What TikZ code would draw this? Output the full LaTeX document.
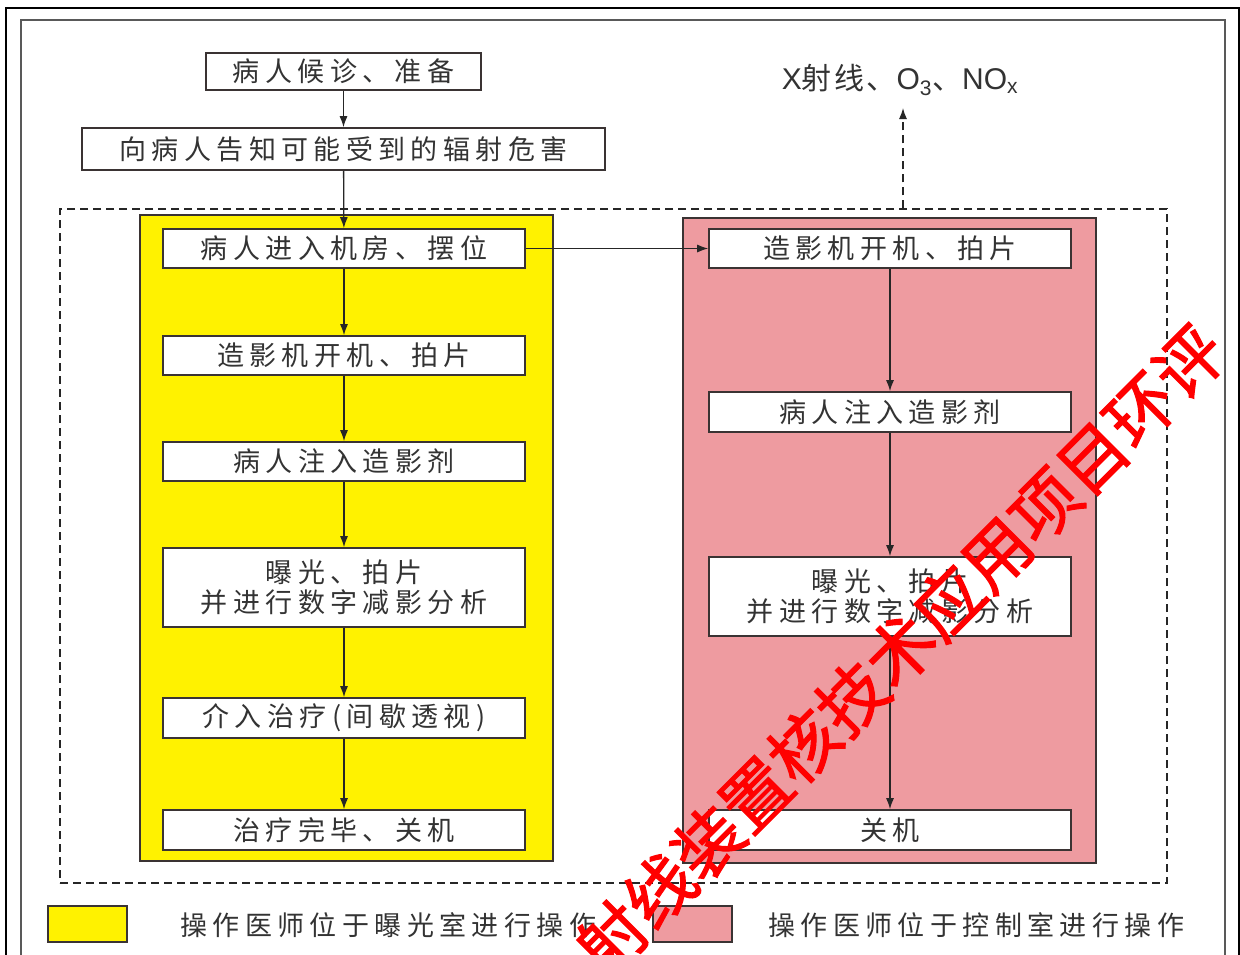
\documentclass[tikz,border=0pt]{standalone}
\usepackage{fontspec}
\setmainfont{Liberation Sans}
\newfontfamily\cjk[LetterSpace=20]{Noto Sans CJK SC}
\newfontfamily\cjkw{Noto Sans CJK SC}
\newfontfamily\cjkn[LetterSpace=8]{Noto Sans CJK SC}
\newfontfamily\wmfont[FakeBold=1.6]{Noto Sans CJK SC}
\usetikzlibrary{arrows.meta}
\definecolor{linec}{HTML}{3A3333}
\definecolor{txt}{HTML}{333333}
\definecolor{yel}{HTML}{FFF200}
\definecolor{pnk}{HTML}{EE9BA0}
\definecolor{wmred}{HTML}{FF0000}
\tikzset{
  stepbox/.style={draw=linec, line width=1.6pt, fill=white, inner sep=0pt,
    text=txt, align=center, font=\cjk\fontsize{27}{30}\selectfont},
  zonebox/.style={draw=linec, line width=1.5pt, inner sep=0pt},
  flow/.style={draw=black!85, line width=1.3pt, -{Latex[length=11pt,width=8pt]}},
  legtext/.style={text=txt, anchor=west, inner sep=0pt, font=\cjk\fontsize{27}{30}\selectfont},
}
\begin{document}
\begin{tikzpicture}[x=1pt,y=-1pt]
\useasboundingbox (0,0) rectangle (1240,954);
\clip (0,0) rectangle (1240,954);
\fill[white] (0,0) rectangle (1240,954);
% frames
\draw[black, line width=2.6pt] (6,8) rectangle (1239,1010);
\draw[black!65, line width=2pt] (21,20) rectangle (1225,1010);
% dashed zone
\node[draw=black!85, dashed, dash pattern=on 8pt off 5pt, line width=1.5pt,
  minimum width=1107pt, minimum height=674pt, inner sep=0pt] (zone) at (613.5,546) {};
% coloured zones
\node[zonebox, fill=yel, minimum width=413pt, minimum height=646pt] (yzone) at (346.5,538) {};
\node[zonebox, fill=pnk, minimum width=413pt, minimum height=645pt] (pzone) at (889.5,540.5) {};
% top boxes
\node[stepbox, minimum width=275pt, minimum height=37pt] (t1) at (343.5,71.5) {病人候诊、准备};
\node[stepbox, minimum width=523pt, minimum height=42pt] (t2) at (343.5,149) {向病人告知可能受到的辐射危害};
% left column
\node[stepbox, minimum width=362pt, minimum height=39pt] (l1) at (344,248.5) {病人进入机房、摆位};
\node[stepbox, minimum width=362pt, minimum height=39pt] (l2) at (344,355.5) {造影机开机、拍片};
\node[stepbox, minimum width=362pt, minimum height=39pt] (l3) at (344,461.5) {病人注入造影剂};
\node[stepbox, minimum width=362pt, minimum height=79pt] (l4) at (344,587.5) {曝光、拍片\\并进行数字减影分析};
\node[stepbox, minimum width=362pt, minimum height=40pt] (l5) at (344,718) {介入治疗(间歇透视)};
\node[stepbox, minimum width=362pt, minimum height=40pt] (l6) at (344,830) {治疗完毕、关机};
% right column
\node[stepbox, minimum width=362pt, minimum height=39pt] (r1) at (890,248.5) {造影机开机、拍片};
\node[stepbox, minimum width=362pt, minimum height=40pt] (r2) at (890,412) {病人注入造影剂};
\node[stepbox, minimum width=362pt, minimum height=79pt] (r3) at (890,596.5) {曝光、拍片\\并进行数字减影分析};
\node[stepbox, minimum width=362pt, minimum height=40pt] (r4) at (890,830) {关机};
% emissions label
\node[text=txt, inner sep=0pt, font=\fontsize{30}{32}\selectfont] (emis) at (900,80)
  {X{\cjkn 射线、}O\textsubscript{3}{\cjkw 、}NO\textsubscript{x}};
\coordinate (emit) at (903,108);
% connectors
\draw[flow] (t1) -- (t2);
\draw[flow] (t2) -- (l1);
\draw[flow] (l1) -- (l2);
\draw[flow] (l2) -- (l3);
\draw[flow] (l3) -- (l4);
\draw[flow] (l4) -- (l5);
\draw[flow] (l5) -- (l6);
\draw[flow] (l1) -- (r1);
\draw[flow] (r1) -- (r2);
\draw[flow] (r2) -- (r3);
\draw[flow] (r3) -- (r4);
\draw[flow, dashed, dash pattern=on 8pt off 5pt] (zone.north -| emit) -- (emit);
% legend
\node[zonebox, fill=yel, minimum width=79pt, minimum height=36pt] (ly) at (87.5,924) {};
\node[legtext] (lyt) at (180,925) {操作医师位于曝光室进行操作};
\node[zonebox, fill=pnk, minimum width=79pt, minimum height=36pt] (lp) at (692.5,924) {};
\node[legtext] (lpt) at (768,925) {操作医师位于控制室进行操作};
% watermark
\node[rotate=45, text=wmred, inner sep=0pt, font=\wmfont\fontsize{68}{68}\selectfont] (wm) at (900,650)
  {射线装置核技术应用项目环评};
\end{tikzpicture}
\end{document}
